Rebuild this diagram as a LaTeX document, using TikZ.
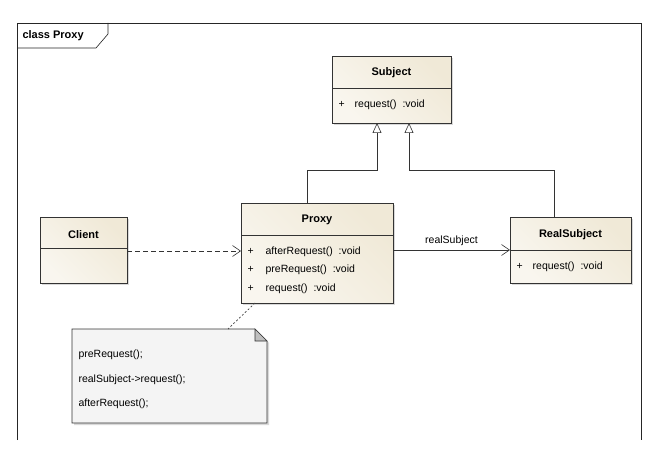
\documentclass[tikz,border=0pt]{standalone}
\usepackage{fontspec}
\setmainfont{Liberation Sans}
\usetikzlibrary{arrows.meta,shadows,calc}
\definecolor{cream}{RGB}{240,233,215}
\definecolor{notef}{RGB}{244,244,244}
\begin{document}
\begin{tikzpicture}[x=1pt,y=-1pt,font=\fontsize{10.5}{12}\selectfont,
  box/.style={draw=black!80,line width=0.7pt,left color=cream!40,right color=cream,shading angle=135,drop shadow={shadow xshift=2pt,shadow yshift=-2pt,opacity=0.3},inner sep=0,anchor=north west},
  ttl/.style={font=\fontsize{11}{13}\selectfont\bfseries},
  gen/.style={-{Triangle[open,length=10pt,width=9pt]},black!80,line width=0.6pt},
  assoc/.style={-{Straight Barb[length=8pt,width=11pt]},black!80,line width=0.6pt},
  dep/.style={-{Straight Barb[length=8pt,width=11pt]},dashed,dash pattern=on 5pt off 3pt,black!80,line width=0.6pt}]
\useasboundingbox (0,0) rectangle (660,454);
% frame
\draw[black!85,line width=0.6pt] (17,440) -- (17,23) -- (641,23) -- (641,440);
\draw[black!85,line width=0.6pt] (17,48) -- (96,48) -- (108,34) -- (108,23);
\node[anchor=west,font=\fontsize{11}{13}\selectfont\bfseries] (frm) at (19,36) {class Proxy};
% Subject
\node[box,minimum width=119pt,minimum height=67pt] (subj) at (332,56) {};
\draw[black!80,line width=0.6pt] (332,88) -- (451,88);
\node[ttl] (subjt) at (391.5,73) {Subject};
\node[anchor=west] (s1) at (335,105) {+\hspace{10pt}request()\ \ :void};
% Proxy
\node[box,minimum width=152pt,minimum height=100pt] (prox) at (241,203) {};
\draw[black!80,line width=0.6pt] (241,235) -- (393,235);
\node[ttl] (proxt) at (317,220) {Proxy};
\node[anchor=west] (p1) at (244,252) {+\hspace{12pt}afterRequest()\ \ :void};
\node[anchor=west] (p2) at (244,270) {+\hspace{12pt}preRequest()\ \ :void};
\node[anchor=west] (p3) at (244,289) {+\hspace{12pt}request()\ \ :void};
% RealSubject
\node[box,minimum width=121pt,minimum height=66pt] (real) at (510,217) {};
\draw[black!80,line width=0.6pt] (510,250) -- (631,250);
\node[ttl] (realt) at (570.5,235) {RealSubject};
\node[anchor=west] (r1) at (513,267) {+\hspace{10pt}request()\ \ :void};
% Client
\node[box,minimum width=87pt,minimum height=66pt] (cli) at (40,217) {};
\draw[black!80,line width=0.6pt] (40,248) -- (127,248);
\node[ttl] (clit) at (83.5,235) {Client};
% Note
\draw[black!80,line width=0.6pt,fill=notef,drop shadow={shadow xshift=2pt,shadow yshift=-2pt,opacity=0.3}] (72,329) -- (255,329) -- (267,341) -- (267,423) -- (72,423) -- cycle;
\draw[black!80,line width=0.6pt,fill=black!25] (255,329) -- (255,341) -- (267,341) -- cycle;
\coordinate (note) at (228,329);
\node[anchor=west] (n1) at (75,355) {preRequest();};
\node[anchor=west] (n2) at (75,380) {realSubject->request();};
\node[anchor=west] (n3) at (75,404) {afterRequest();};
% connectors
\draw[gen] (prox.north west) ++(66,0) |- ++(70,-33) -- (377,123);
\draw[gen] (real.north west) ++(44,0) |- (409,170) -- (409,123);
\draw[assoc] (393,250) -- (510,250) node[pos=0.5,above=1pt,text=black] (lbl) {realSubject};
\draw[dep] (127,251) -- (241,251);
\draw[black!75,dash pattern=on 2pt off 2pt,line width=0.7pt] (255,303) -- (note);
\end{tikzpicture}
\end{document}
